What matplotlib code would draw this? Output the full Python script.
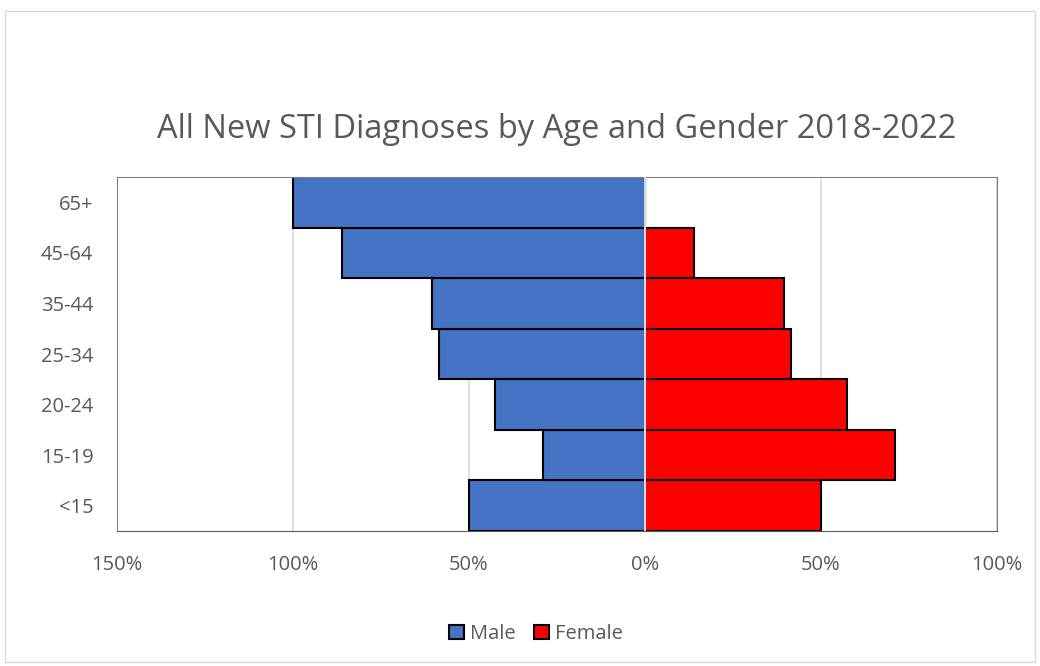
import matplotlib.pyplot as plt
from matplotlib.patches import Rectangle
from matplotlib.ticker import FuncFormatter

plt.rcParams['font.family'] = ['Open Sans', 'DejaVu Sans']

age_groups = ['<15', '15-19', '20-24', '25-34', '35-44', '45-64', '65+']
male_pct = [50, 29, 42.5, 58.5, 60.5, 86, 100]
female_pct = [50, 71, 57.5, 41.5, 39.5, 14, 0]

text_color = '#595959'
fig = plt.figure(figsize=(10.4, 6.66), dpi=100)
ax = fig.add_axes([117/1040, 1-531/666, 880/1040, 354/666])

y = range(len(age_groups))
ax.barh(y, [-m for m in male_pct], height=1.0, color='#4472C4', edgecolor='black', linewidth=1.5, label='Male', zorder=2)
ax.barh(y, female_pct, height=1.0, color='#FF0000', edgecolor='black', linewidth=1.5, label='Female', zorder=2)
ax.axvline(0, color='#d9d9d9', linewidth=1.5, zorder=3)

ax.set_xlim(-150, 100)
ax.set_ylim(-0.5, len(age_groups) - 0.5)
ax.set_xticks(range(-150, 101, 50))
ax.xaxis.set_major_formatter(FuncFormatter(lambda v, p: f'{abs(int(v))}%'))
ax.set_yticks(list(y))
ax.set_yticklabels(age_groups)
ax.grid(axis='x', color='#d9d9d9', linewidth=1.2, zorder=0)
ax.set_axisbelow(True)
ax.tick_params(length=0, colors=text_color, labelsize=14.5)
ax.tick_params(axis='x', pad=17)
ax.tick_params(axis='y', pad=17)
for s in ['left', 'top', 'right']:
    ax.spines[s].set_color('#808080')
ax.spines['bottom'].set_color('#595959')

ax.set_title('All New STI Diagnoses by Age and Gender 2018-2022', fontsize=23.5, color=text_color, pad=28)

leg = fig.legend(loc='center', bbox_to_anchor=(536/1040, 1-634/666), ncol=2, frameon=False,
                 fontsize=14.5, handlelength=0.75, handleheight=0.75, handletextpad=0.3, columnspacing=0.9)
for t in leg.get_texts():
    t.set_color(text_color)

fig.patches.append(Rectangle((5/1040, 4/666), 1030/1040, 651/666, transform=fig.transFigure,
                             fill=False, edgecolor='#d9d9d9', linewidth=1))

fig.savefig('out.png', dpi=100)
